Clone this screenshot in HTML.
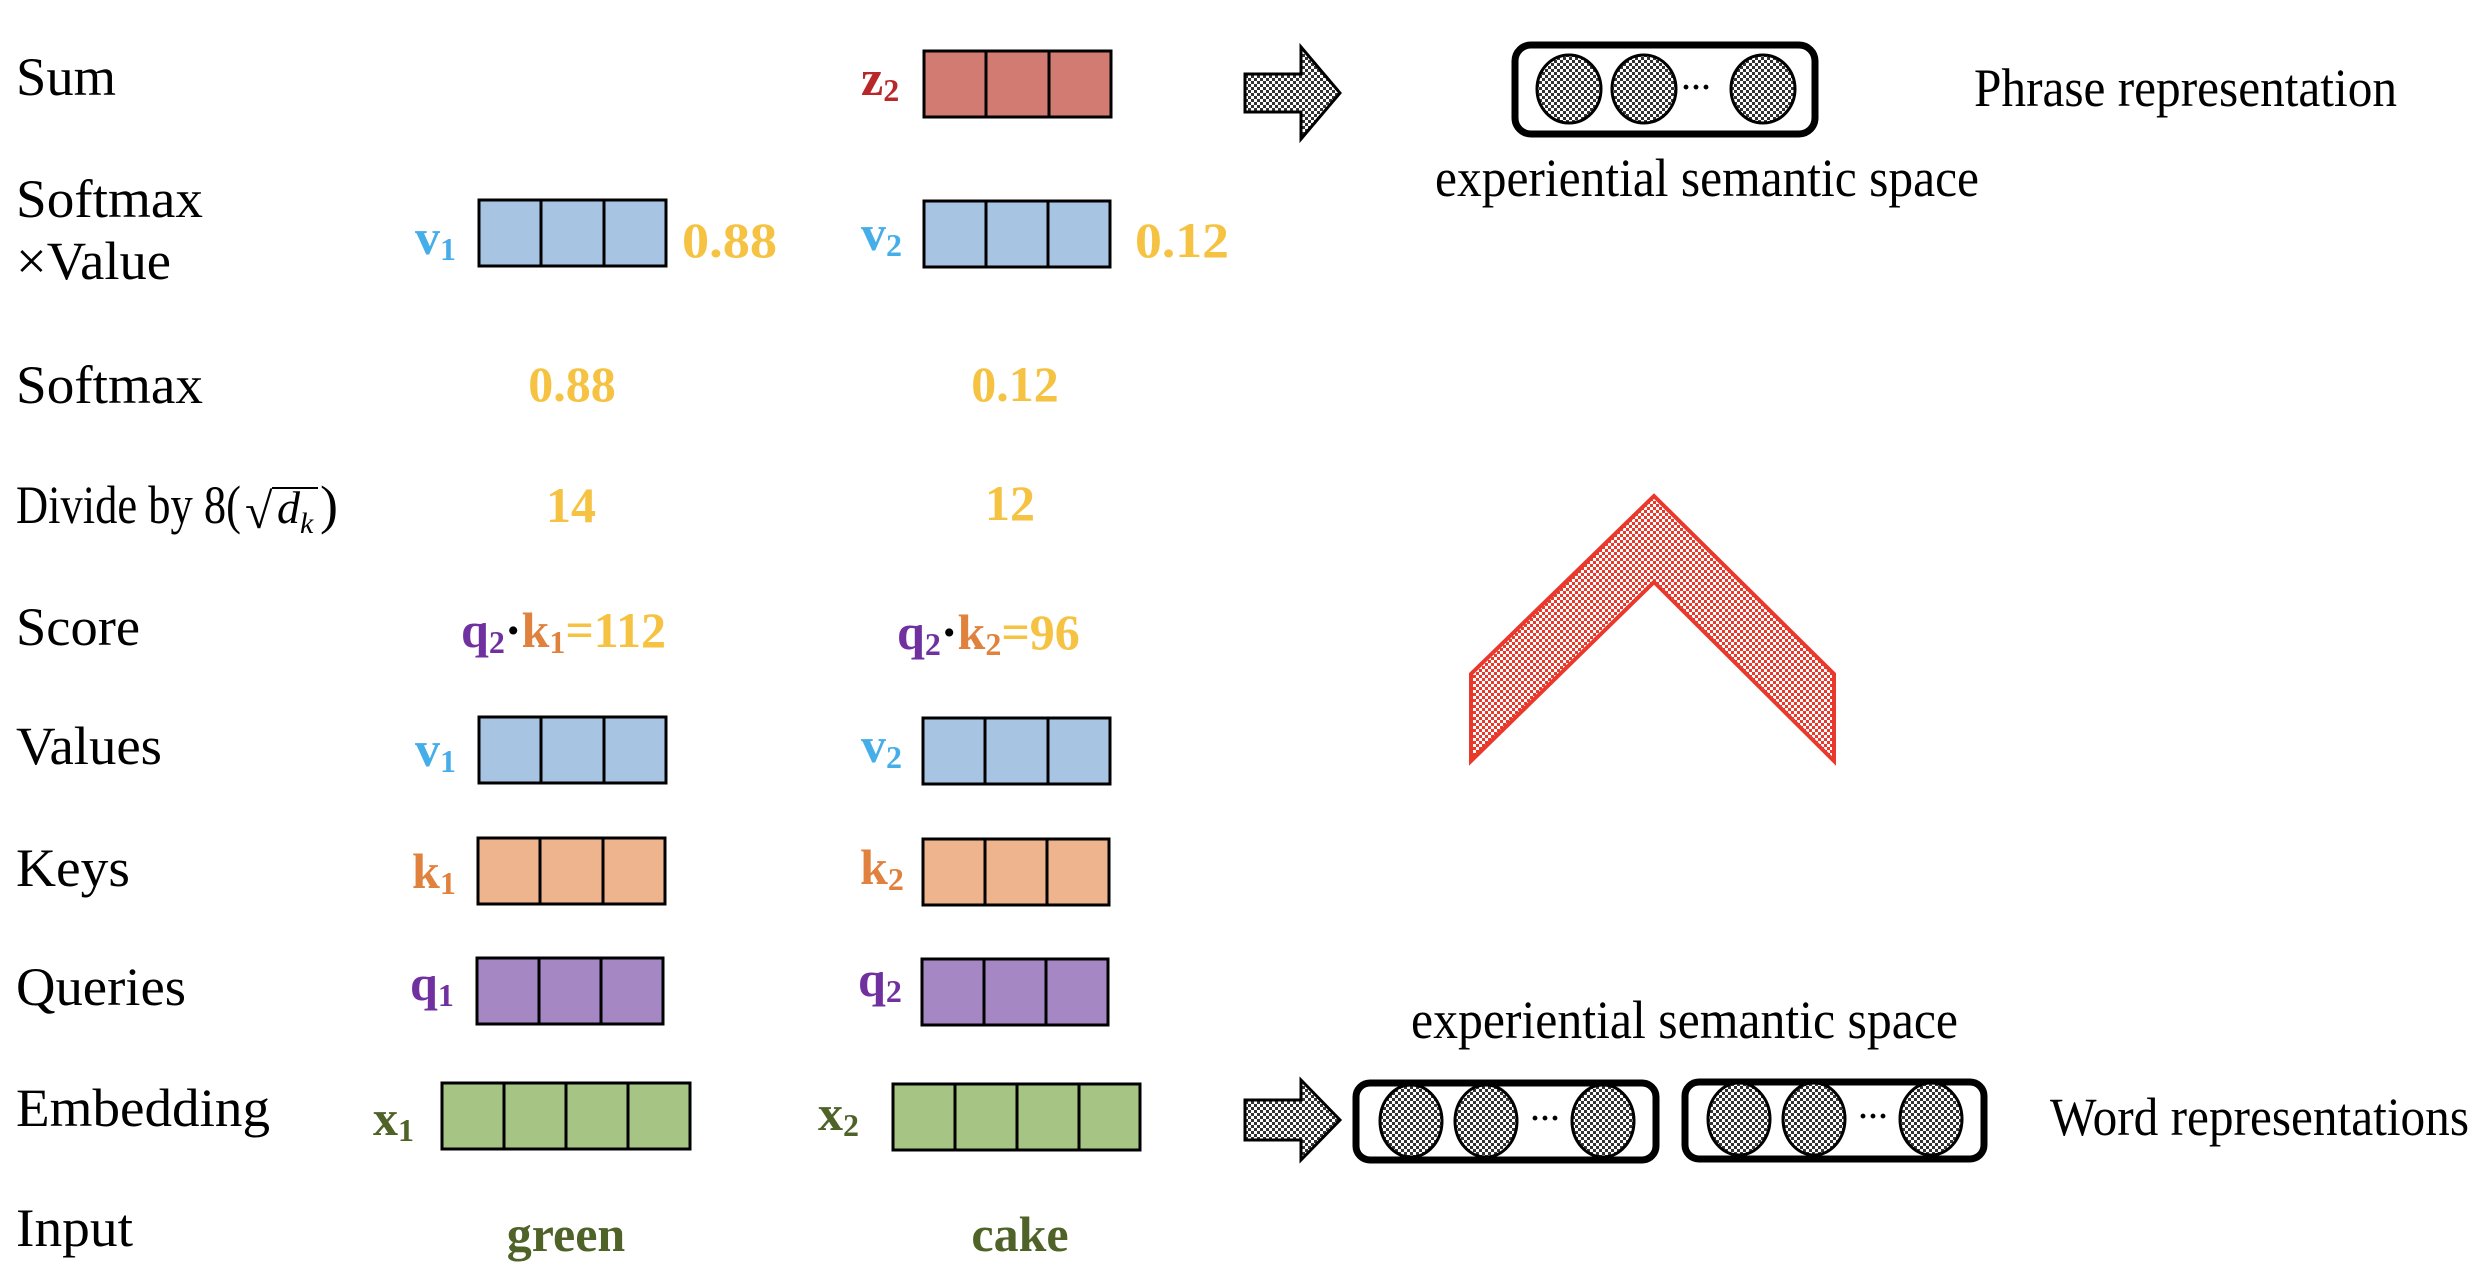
<!DOCTYPE html>
<html><head><meta charset="utf-8"><style>
html,body{margin:0;padding:0;background:#fff;}
svg{display:block;}
text{font-family:"Liberation Serif",serif;}
.l{font-size:54px;fill:#000;}
.b{font-weight:bold;font-size:50px;}
</style></head><body>
<svg width="2486" height="1274" viewBox="0 0 2486 1274" xmlns="http://www.w3.org/2000/svg">
<defs>
<pattern id="ck" width="6" height="6" patternUnits="userSpaceOnUse">
<rect width="6" height="6" fill="#fff"/><rect width="3" height="3" fill="#333"/><rect x="3" y="3" width="3" height="3" fill="#333"/>
</pattern>
<pattern id="rk" width="6" height="6" patternUnits="userSpaceOnUse">
<rect width="6" height="6" fill="#fff"/><rect width="3" height="3" fill="#e8392c"/><rect x="3" y="3" width="3" height="3" fill="#e8392c"/>
</pattern>
</defs>

<!-- left labels -->
<text class="l" x="16" y="95" textLength="100" lengthAdjust="spacingAndGlyphs">Sum</text>
<text class="l" x="16" y="217" textLength="187" lengthAdjust="spacingAndGlyphs">Softmax</text>
<text class="l" x="16" y="279" textLength="155" lengthAdjust="spacingAndGlyphs">×Value</text>
<text class="l" x="16" y="403" textLength="187" lengthAdjust="spacingAndGlyphs">Softmax</text>
<text class="l" x="16" y="523" textLength="225" lengthAdjust="spacingAndGlyphs">Divide by 8(</text>
<text x="245" y="528" font-size="50" fill="#000">√</text>
<line x1="272" y1="488" x2="318" y2="488" stroke="#000" stroke-width="2"/>
<text x="277" y="523" font-size="46" font-style="italic" fill="#000">d</text>
<text x="300" y="533" font-size="30" font-style="italic" fill="#000">k</text>
<text class="l" x="320" y="523">)</text>
<text class="l" x="16" y="645" textLength="124" lengthAdjust="spacingAndGlyphs">Score</text>
<text class="l" x="16" y="764" textLength="146" lengthAdjust="spacingAndGlyphs">Values</text>
<text class="l" x="16" y="886" textLength="114" lengthAdjust="spacingAndGlyphs">Keys</text>
<text class="l" x="16" y="1005" textLength="170" lengthAdjust="spacingAndGlyphs">Queries</text>
<text class="l" x="16" y="1126" textLength="254" lengthAdjust="spacingAndGlyphs">Embedding</text>
<text class="l" x="16" y="1246" textLength="117" lengthAdjust="spacingAndGlyphs">Input</text>

<!-- boxes: 3 cells -->
<g stroke="#000" stroke-width="3">
<rect x="924" y="51" width="187" height="66" fill="#d27b72"/><line x1="986" y1="51" x2="986" y2="117"/><line x1="1049" y1="51" x2="1049" y2="117"/>
<rect x="479" y="200" width="187" height="66" fill="#a7c4e2"/><line x1="541" y1="200" x2="541" y2="266"/><line x1="604" y1="200" x2="604" y2="266"/>
<rect x="924" y="201" width="186" height="66" fill="#a7c4e2"/><line x1="986" y1="201" x2="986" y2="267"/><line x1="1048" y1="201" x2="1048" y2="267"/>
<rect x="479" y="717" width="187" height="66" fill="#a7c4e2"/><line x1="541" y1="717" x2="541" y2="783"/><line x1="604" y1="717" x2="604" y2="783"/>
<rect x="923" y="718" width="187" height="66" fill="#a7c4e2"/><line x1="985" y1="718" x2="985" y2="784"/><line x1="1048" y1="718" x2="1048" y2="784"/>
<rect x="478" y="838" width="187" height="66" fill="#edb48e"/><line x1="540" y1="838" x2="540" y2="904"/><line x1="603" y1="838" x2="603" y2="904"/>
<rect x="923" y="839" width="186" height="66" fill="#edb48e"/><line x1="985" y1="839" x2="985" y2="905"/><line x1="1047" y1="839" x2="1047" y2="905"/>
<rect x="477" y="958" width="186" height="66" fill="#a588c3"/><line x1="539" y1="958" x2="539" y2="1024"/><line x1="601" y1="958" x2="601" y2="1024"/>
<rect x="922" y="959" width="186" height="66" fill="#a588c3"/><line x1="984" y1="959" x2="984" y2="1025"/><line x1="1046" y1="959" x2="1046" y2="1025"/>
<rect x="442" y="1083" width="248" height="66" fill="#a6c585"/><line x1="504" y1="1083" x2="504" y2="1149"/><line x1="566" y1="1083" x2="566" y2="1149"/><line x1="628" y1="1083" x2="628" y2="1149"/>
<rect x="893" y="1084" width="247" height="66" fill="#a6c585"/><line x1="955" y1="1084" x2="955" y2="1150"/><line x1="1017" y1="1084" x2="1017" y2="1150"/><line x1="1079" y1="1084" x2="1079" y2="1150"/>
</g>

<!-- vector labels -->
<g class="b">
<text class="b" x="861" y="95" fill="#b8282a">z<tspan font-size="32" dy="6">2</tspan></text>
<text class="b" x="415" y="254" fill="#45aee8">v<tspan font-size="32" dy="6">1</tspan></text>
<text class="b" x="861" y="250" fill="#45aee8">v<tspan font-size="32" dy="6">2</tspan></text>
<text class="b" x="415" y="766" fill="#45aee8">v<tspan font-size="32" dy="6">1</tspan></text>
<text class="b" x="861" y="762" fill="#45aee8">v<tspan font-size="32" dy="6">2</tspan></text>
<text class="b" x="412" y="888" fill="#e0813e">k<tspan font-size="32" dy="6">1</tspan></text>
<text class="b" x="860" y="884" fill="#e0813e">k<tspan font-size="32" dy="6">2</tspan></text>
<text class="b" x="410" y="1000" fill="#7030a0">q<tspan font-size="32" dy="6">1</tspan></text>
<text class="b" x="858" y="996" fill="#7030a0">q<tspan font-size="32" dy="6">2</tspan></text>
<text class="b" x="373" y="1135" fill="#4f6228">x<tspan font-size="32" dy="6">1</tspan></text>
<text class="b" x="818" y="1130" fill="#4f6228">x<tspan font-size="32" dy="6">2</tspan></text>
</g>

<!-- numbers -->
<g fill="#f5c242">
<text class="b" x="682" y="257" textLength="95" lengthAdjust="spacingAndGlyphs">0.88</text>
<text class="b" x="1135" y="257" textLength="94" lengthAdjust="spacingAndGlyphs">0.12</text>
<text class="b" x="572" y="401" text-anchor="middle">0.88</text>
<text class="b" x="1015" y="401" text-anchor="middle">0.12</text>
<text class="b" x="571" y="522" text-anchor="middle">14</text>
<text class="b" x="1010" y="520" text-anchor="middle">12</text>
</g>
<text class="b" x="461" y="647"><tspan fill="#7030a0">q</tspan><tspan fill="#7030a0" font-size="32" dy="6">2</tspan><tspan fill="#000" dy="-6">·</tspan><tspan fill="#e0813e">k</tspan><tspan fill="#e0813e" font-size="32" dy="6">1</tspan><tspan fill="#f5c242" dy="-6">=112</tspan></text>
<text class="b" x="897" y="649"><tspan fill="#7030a0">q</tspan><tspan fill="#7030a0" font-size="32" dy="6">2</tspan><tspan fill="#000" dy="-6">·</tspan><tspan fill="#e0813e">k</tspan><tspan fill="#e0813e" font-size="32" dy="6">2</tspan><tspan fill="#f5c242" dy="-6">=96</tspan></text>
<text class="b" x="566" y="1251" text-anchor="middle" fill="#4f6228">green</text>
<text class="b" x="1020" y="1251" text-anchor="middle" fill="#4f6228">cake</text>

<!-- top right -->
<polygon points="1245,74 1301,74 1301,47 1340,93 1301,139 1301,112 1245,112" fill="url(#ck)" stroke="#000" stroke-width="3"/>
<rect x="1515" y="45" width="300" height="89" rx="16" fill="#fff" stroke="#000" stroke-width="7"/>
<g fill="url(#ck)" stroke="#000" stroke-width="3">
<ellipse cx="1569" cy="89" rx="32" ry="34"/><ellipse cx="1644" cy="89" rx="32" ry="34"/><ellipse cx="1763" cy="89" rx="32" ry="34"/>
</g>
<text x="1696" y="97" font-size="30" font-weight="bold" text-anchor="middle">···</text>
<text class="l" x="1974" y="106" textLength="423" lengthAdjust="spacingAndGlyphs" font-size="50">Phrase representation</text>
<text class="l" x="1435" y="196" textLength="544" lengthAdjust="spacingAndGlyphs" font-size="50">experiential semantic space</text>

<!-- chevron -->
<polygon points="1654,496 1834,674 1834,761 1654,582 1471,761 1471,674" fill="url(#rk)" stroke="#e8392c" stroke-width="4"/>

<!-- bottom right -->
<text class="l" x="1411" y="1038" textLength="547" lengthAdjust="spacingAndGlyphs" font-size="50">experiential semantic space</text>
<polygon points="1245,1100 1301,1100 1301,1080 1340,1120 1301,1160 1301,1140 1245,1140" fill="url(#ck)" stroke="#000" stroke-width="3"/>
<rect x="1356" y="1083" width="300" height="77" rx="14" fill="#fff" stroke="#000" stroke-width="7"/>
<rect x="1685" y="1082" width="299" height="77" rx="14" fill="#fff" stroke="#000" stroke-width="7"/>
<g fill="url(#ck)" stroke="#000" stroke-width="3">
<ellipse cx="1411" cy="1121" rx="31" ry="36"/><ellipse cx="1486" cy="1121" rx="31" ry="36"/><ellipse cx="1603" cy="1121" rx="31" ry="36"/>
<ellipse cx="1739" cy="1119" rx="31" ry="36"/><ellipse cx="1814" cy="1119" rx="31" ry="36"/><ellipse cx="1931" cy="1119" rx="31" ry="36"/>
</g>
<text x="1545" y="1128" font-size="30" font-weight="bold" text-anchor="middle">···</text>
<text x="1873" y="1126" font-size="30" font-weight="bold" text-anchor="middle">···</text>
<text class="l" x="2050" y="1135" textLength="419" lengthAdjust="spacingAndGlyphs" font-size="50">Word representations</text>
</svg>
</body></html>
